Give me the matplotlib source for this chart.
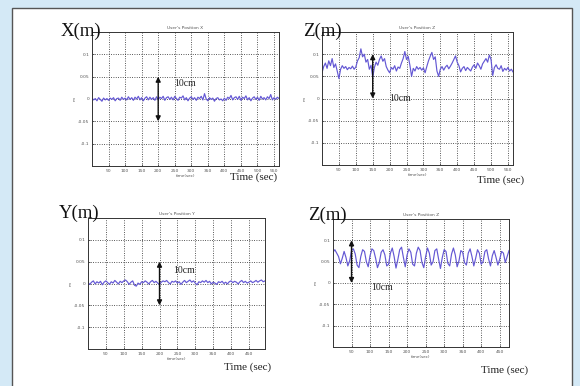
import numpy as np
import matplotlib
matplotlib.use("Agg")
import matplotlib.pyplot as plt
from matplotlib.patches import Rectangle

# position traces (m), sampled every 5 s
t_top = np.arange(0, 566, 5)
t_y = np.arange(0, 496, 5)
t_z2 = np.arange(0, 476, 5)

pos_x = [
    0.002, -0.002, 0.001, -0.004, 0.003, -0.001, -0.005, 0.002, -0.002, 0.001,
    -0.003, 0.002, -0.001, 0.003, -0.004, 0.001, 0.002, -0.003, 0.004, -0.001,
    0.002, -0.002, 0.005, -0.001, 0.003, -0.003, 0.004, 0.000, 0.006, -0.002,
    0.003, -0.004, 0.002, 0.005, -0.002, 0.004, -0.001, 0.003, -0.003, 0.005,
    -0.002, 0.004, 0.001, 0.006, -0.003, 0.003, 0.005, -0.001, 0.004, -0.002,
    0.006, 0.001, -0.003, 0.004, 0.002, 0.007, -0.002, 0.003, -0.004, 0.002,
    0.005, -0.001, 0.003, -0.003, 0.004, 0.001, 0.006, -0.002, 0.012, 0.000,
    -0.004, 0.003, -0.001, 0.002, -0.005, 0.001, 0.003, -0.002, 0.000, -0.004,
    0.002, -0.003, 0.004, 0.001, 0.008, -0.002, 0.003, 0.005, -0.001, 0.006,
    -0.003, 0.004, 0.001, 0.007, -0.002, 0.003, -0.004, 0.002, 0.005, -0.001,
    0.004, -0.003, 0.006, 0.000, 0.003, -0.002, 0.005, 0.001, 0.010, -0.002,
    0.003, -0.001, 0.004, 0.001,
]

pos_z1 = [
    0.058, 0.072, 0.080, 0.068, 0.085, 0.074, 0.090, 0.070, 0.078, 0.062,
    0.045, 0.066, 0.074, 0.068, 0.072, 0.065, 0.070, 0.067, 0.073, 0.066,
    0.071, 0.085, 0.092, 0.112, 0.094, 0.100, 0.082, 0.088, 0.066, 0.075,
    0.048, 0.070, 0.082, 0.075, 0.088, 0.096, 0.084, 0.090, 0.072, 0.064,
    0.058, 0.070, 0.066, 0.074, 0.062, 0.071, 0.068, 0.080, 0.090, 0.106,
    0.088, 0.095, 0.075, 0.050, 0.068, 0.062, 0.072, 0.066, 0.070, 0.064,
    0.069, 0.058, 0.072, 0.085, 0.095, 0.104, 0.088, 0.094, 0.062, 0.050,
    0.066, 0.072, 0.064, 0.071, 0.075, 0.067, 0.073, 0.080, 0.088, 0.096,
    0.082, 0.074, 0.060, 0.068, 0.072, 0.063, 0.070, 0.066, 0.062, 0.071,
    0.076, 0.068, 0.080, 0.074, 0.066, 0.078, 0.084, 0.090, 0.082, 0.098,
    0.088, 0.052, 0.070, 0.076, 0.068, 0.066, 0.074, 0.061, 0.068, 0.064,
    0.070, 0.062, 0.066, 0.060,
]

pos_y = [
    0.002, -0.002, 0.003, 0.006, -0.001, 0.004, 0.001, 0.005, -0.003, 0.003,
    0.006, 0.002, -0.002, 0.004, 0.001, 0.007, 0.003, -0.001, 0.005, 0.002,
    0.006, 0.008, 0.004, -0.002, 0.003, 0.006, -0.004, -0.006, 0.001, -0.002,
    0.004, 0.002, 0.006, 0.003, -0.001, 0.004, 0.007, 0.002, 0.005, 0.001,
    -0.002, 0.003, 0.006, 0.004, 0.007, 0.002, -0.001, 0.005, 0.003, 0.006,
    0.001, 0.004, -0.002, 0.003, 0.007, 0.002, 0.005, 0.008, 0.003, 0.006,
    0.001, -0.003, 0.004, 0.002, 0.006, 0.003, 0.007, 0.002, 0.005, -0.001,
    0.003, 0.001, -0.002, 0.004, 0.002, 0.005, 0.000, 0.003, -0.001, 0.004,
    0.006, 0.002, 0.005, 0.003, -0.001, 0.004, 0.007, 0.002, 0.005, 0.001,
    0.003, 0.006, 0.002, 0.004, 0.007, 0.003, 0.006, 0.008, 0.004, 0.006,
]

pos_z2 = [
    0.072, 0.078, 0.070, 0.062, 0.045, 0.058, 0.074, 0.060, 0.040, 0.052,
    0.076, 0.080, 0.068, 0.042, 0.036, 0.062, 0.078, 0.074, 0.050, 0.038,
    0.064, 0.080, 0.076, 0.058, 0.036, 0.048, 0.072, 0.078, 0.066, 0.040,
    0.044, 0.070, 0.082, 0.062, 0.035, 0.055, 0.078, 0.084, 0.060, 0.038,
    0.066, 0.080, 0.072, 0.044, 0.040, 0.070, 0.084, 0.076, 0.048, 0.036,
    0.062, 0.082, 0.070, 0.042, 0.050, 0.076, 0.080, 0.056, 0.034, 0.060,
    0.078, 0.074, 0.046, 0.040, 0.068, 0.082, 0.066, 0.038, 0.052, 0.076,
    0.072, 0.048, 0.042, 0.070, 0.080, 0.062, 0.040, 0.058, 0.078, 0.070,
    0.044, 0.050, 0.074, 0.078, 0.056, 0.040, 0.064, 0.076, 0.060, 0.042,
    0.056, 0.074, 0.070, 0.048, 0.062, 0.076,
]

yticks = [-0.1, -0.05, 0, 0.05, 0.1]
ytick_labels = ["-0.1", "-0.05", "0", "0.05", "0.1"]

W, H = 580, 386
fig = plt.figure(figsize=(W / 100, H / 100), dpi=100)
fig.patch.set_facecolor("#d4e9f6")
fig.patches.append(Rectangle((12 / W, -0.05), 560 / W, 1 - 8 / H + 0.05,
                             transform=fig.transFigure, facecolor="white",
                             edgecolor="#555555", linewidth=1.0, zorder=-5))

serif = ["Liberation Serif", "DejaVu Serif"]
line_col = "#6458d4"


def px(x, y):
    return x / W, 1 - y / H


def panel(rect, t, vals, xmax, xticks, title, big, big_xy, time_xy,
          arrow_x, arrow_y, txt_xy):
    l, top, r, b = rect
    ax = fig.add_axes([l / W, 1 - b / H, (r - l) / W, (b - top) / H])
    ax.set_zorder(1)
    ax.plot(t, vals, color=line_col, lw=0.85)
    ax.set_xlim(0, xmax)
    ax.set_ylim(-0.15, 0.15)
    ax.set_xticks(xticks)
    ax.set_xticklabels([str(v) for v in xticks])
    ax.set_yticks(yticks)
    ax.set_yticklabels(ytick_labels)
    ax.tick_params(direction="in", length=1.5, width=0.4, labelsize=3.2,
                   labelcolor="#555555", pad=2)
    ax.grid(True, color="#222222", linestyle=(0, (1, 1.8)), linewidth=0.6)
    for s in ax.spines.values():
        s.set_linewidth(0.7)
        s.set_color("#333333")
    ax.set_title(title, fontsize=3.2, color="#555555", pad=2)
    ax.set_xlabel("time(sec)", fontsize=3, color="#555555", labelpad=1)
    ax.set_ylabel("m", fontsize=3, color="#555555", labelpad=1)
    ax.annotate("", xy=(arrow_x, arrow_y[1]), xytext=(arrow_x, arrow_y[0]),
                arrowprops=dict(arrowstyle="<|-|>", color="#111111", lw=1.0,
                                mutation_scale=7, shrinkA=0, shrinkB=0))
    ax.text(txt_xy[0], txt_xy[1], "10cm", family=serif, fontsize=7,
            va="center", ha="left", color="#222222")
    fig.text(*px(*big_xy), big, family=serif, fontsize=13.5, ha="center",
             va="center", color="#111111", zorder=3)
    fig.text(*px(*time_xy), "Time (sec)", family=serif, fontsize=8,
             ha="center", va="center", color="#222222", zorder=3)
    return ax


ticks_top = list(range(50, 551, 50))
ticks_bot = list(range(50, 451, 50))

panel((92, 32, 279, 166), t_top, pos_x, 565, ticks_top,
      "User's Position X", "X(m)", (81, 31), (254, 177),
      200, (0.05, -0.05), (247, 0.035))
panel((322, 32, 513, 165), t_top, pos_z1, 565, ticks_top,
      "User's Position Z", "Z(m)", (322, 31), (501, 180),
      150, (0.1, 0.0), (200, 0.0))
panel((88, 218, 265, 349), t_y, pos_y, 495, ticks_bot,
      "User's Position Y", "Y(m)", (79, 213), (248, 367),
      200, (0.05, -0.05), (237, 0.03))
panel((333, 219, 509, 347), t_z2, pos_z2, 475, ticks_bot,
      "User's Position Z", "Z(m)", (327, 215), (505, 370),
      50, (0.1, 0.0), (104, -0.01))

fig.savefig("out.png", dpi=100, facecolor=fig.get_facecolor())
